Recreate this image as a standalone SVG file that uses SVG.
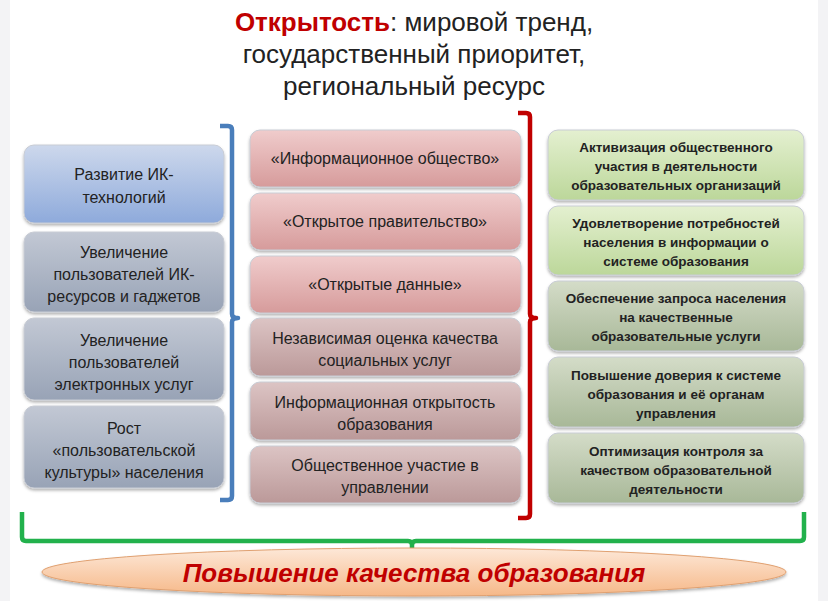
<svg xmlns="http://www.w3.org/2000/svg" width="828" height="601" viewBox="0 0 828 601">
<defs>
<linearGradient id="gb" x1="0" y1="0" x2="0" y2="1"><stop offset="0" stop-color="#cdd8ec"/><stop offset="1" stop-color="#8eaadb"/></linearGradient>
<linearGradient id="gs" x1="0" y1="0" x2="0" y2="1"><stop offset="0" stop-color="#c2c8d4"/><stop offset="1" stop-color="#98a3b6"/></linearGradient>
<linearGradient id="gr" x1="0" y1="0" x2="0" y2="1"><stop offset="0" stop-color="#f0cccc"/><stop offset="1" stop-color="#d69b9b"/></linearGradient>
<linearGradient id="gm" x1="0" y1="0" x2="0" y2="1"><stop offset="0" stop-color="#dcc4c4"/><stop offset="1" stop-color="#bb9999"/></linearGradient>
<linearGradient id="gg" x1="0" y1="0" x2="0" y2="1"><stop offset="0" stop-color="#e4f0d0"/><stop offset="1" stop-color="#bcd79a"/></linearGradient>
<linearGradient id="gh" x1="0" y1="0" x2="0" y2="1"><stop offset="0" stop-color="#d4dcc8"/><stop offset="1" stop-color="#a8b898"/></linearGradient>
<linearGradient id="ge" x1="0" y1="0" x2="0" y2="1"><stop offset="0" stop-color="#fde8d8"/><stop offset="1" stop-color="#f6b888"/></linearGradient>
<filter id="sh" x="-5%" y="-10%" width="110%" height="125%"><feDropShadow dx="0" dy="2" stdDeviation="1.5" flood-color="#000" flood-opacity="0.3"/></filter>
</defs>
<style>
.b{stroke:#c8ccd4;stroke-width:1;filter:url(#sh)}
.t{font-family:"Liberation Sans",sans-serif;font-size:16px;fill:#222;text-anchor:middle}
.r{font-family:"Liberation Sans",sans-serif;font-size:13.5px;font-weight:bold;fill:#222;text-anchor:middle}
.br{fill:none;stroke-width:4.5;stroke-linejoin:round}
</style>
<rect width="828" height="601" fill="#f3f3f5"/>
<rect x="10" y="0" width="808" height="601" fill="#fff"/>
<g id="title" font-family="Liberation Sans, sans-serif" font-size="26" text-anchor="middle" fill="#222">
<text x="414" y="31"><tspan fill="#c00000" font-weight="bold">Открытость</tspan>: мировой тренд,</text>
<text x="414" y="63">государственный приоритет,</text>
<text x="414" y="95">региональный ресурс</text>
</g>
<g id="connectors">
<path class="br" stroke="#4a7ebb" d="M220 126 h8 q4 0 4 4 v184 q0 4 6 4 q-6 0 -6 4 v174 q0 4 -4 4 h-8"/>
<path class="br" stroke="#c00000" d="M518 113 h8 q4 0 4 4 v197 q0 4 6 4 q-6 0 -6 4 v192 q0 4 -4 4 h-8"/>
<path class="br" stroke="#22b14c" d="M22 512 v25 q0 4 4 4 h382 q4 0 4 4 v17 M412 545 q0 -4 4 -4 h384 q4 0 4 -4 v-25"/>
</g>
<g id="left">
<g id="l1"><rect class="b" x="24" y="145" width="200" height="78" rx="10" fill="url(#gb)"/><text class="t" x="124" y="180">Развитие ИК-</text><text class="t" x="124" y="203">технологий</text></g>
<g id="l2"><rect class="b" x="24" y="232" width="200" height="80" rx="10" fill="url(#gs)"/><text class="t" x="124" y="258">Увеличение</text><text class="t" x="124" y="280">пользователей ИК-</text><text class="t" x="124" y="302">ресурсов и гаджетов</text></g>
<g id="l3"><rect class="b" x="24" y="318" width="200" height="82" rx="10" fill="url(#gs)"/><text class="t" x="124" y="346">Увеличение</text><text class="t" x="124" y="368">пользователей</text><text class="t" x="124" y="390">электронных услуг</text></g>
<g id="l4"><rect class="b" x="24" y="406" width="200" height="82" rx="10" fill="url(#gs)"/><text class="t" x="124" y="434">Рост</text><text class="t" x="124" y="456">«пользовательской</text><text class="t" x="124" y="478">культуры» населения</text></g>
</g>
<g id="mid">
<g id="m1"><rect class="b" x="250" y="130" width="271" height="57" rx="10" fill="url(#gr)"/><text class="t" x="385" y="164">«Информационное общество»</text></g>
<g id="m2"><rect class="b" x="250" y="193" width="271" height="57" rx="10" fill="url(#gr)"/><text class="t" x="385" y="227">«Открытое правительство»</text></g>
<g id="m3"><rect class="b" x="250" y="256" width="271" height="57" rx="10" fill="url(#gr)"/><text class="t" x="385" y="290">«Открытые данные»</text></g>
<g id="m4"><rect class="b" x="250" y="318" width="271" height="58" rx="10" fill="url(#gm)"/><text class="t" x="385" y="344">Независимая оценка качества</text><text class="t" x="385" y="366">социальных услуг</text></g>
<g id="m5"><rect class="b" x="250" y="382" width="271" height="58" rx="10" fill="url(#gm)"/><text class="t" x="385" y="408">Информационная открытость</text><text class="t" x="385" y="430">образования</text></g>
<g id="m6"><rect class="b" x="250" y="446" width="271" height="57" rx="10" fill="url(#gm)"/><text class="t" x="385" y="471">Общественное участие в</text><text class="t" x="385" y="493">управлении</text></g>
</g>
<g id="right">
<g id="r1"><rect class="b" x="548" y="130" width="256" height="70" rx="10" fill="url(#gg)"/><text class="r" x="676" y="152">Активизация общественного</text><text class="r" x="676" y="171">участия в деятельности</text><text class="r" x="676" y="190">образовательных организаций</text></g>
<g id="r2"><rect class="b" x="548" y="206" width="256" height="69" rx="10" fill="url(#gg)"/><text class="r" x="676" y="228">Удовлетворение потребностей</text><text class="r" x="676" y="247">населения в информации о</text><text class="r" x="676" y="266">системе образования</text></g>
<g id="r3"><rect class="b" x="548" y="281" width="256" height="70" rx="10" fill="url(#gh)"/><text class="r" x="676" y="303">Обеспечение запроса населения</text><text class="r" x="676" y="322">на качественные</text><text class="r" x="676" y="341">образовательные услуги</text></g>
<g id="r4"><rect class="b" x="548" y="357" width="256" height="70" rx="10" fill="url(#gh)"/><text class="r" x="676" y="380">Повышение доверия к системе</text><text class="r" x="676" y="399">образования и её органам</text><text class="r" x="676" y="418">управления</text></g>
<g id="r5"><rect class="b" x="548" y="433" width="256" height="70" rx="10" fill="url(#gh)"/><text class="r" x="676" y="456">Оптимизация контроля за</text><text class="r" x="676" y="475">качеством образовательной</text><text class="r" x="676" y="494">деятельности</text></g>
</g>
<g id="goal">
<ellipse cx="414" cy="572" rx="372" ry="24" fill="url(#ge)" stroke="#e0a070" stroke-width="1" filter="url(#sh)"/>
<text x="414" y="582" text-anchor="middle" font-family="Liberation Sans, sans-serif" font-size="26" font-weight="bold" font-style="italic" fill="#c00000">Повышение качества образования</text>
</g>
</svg>
